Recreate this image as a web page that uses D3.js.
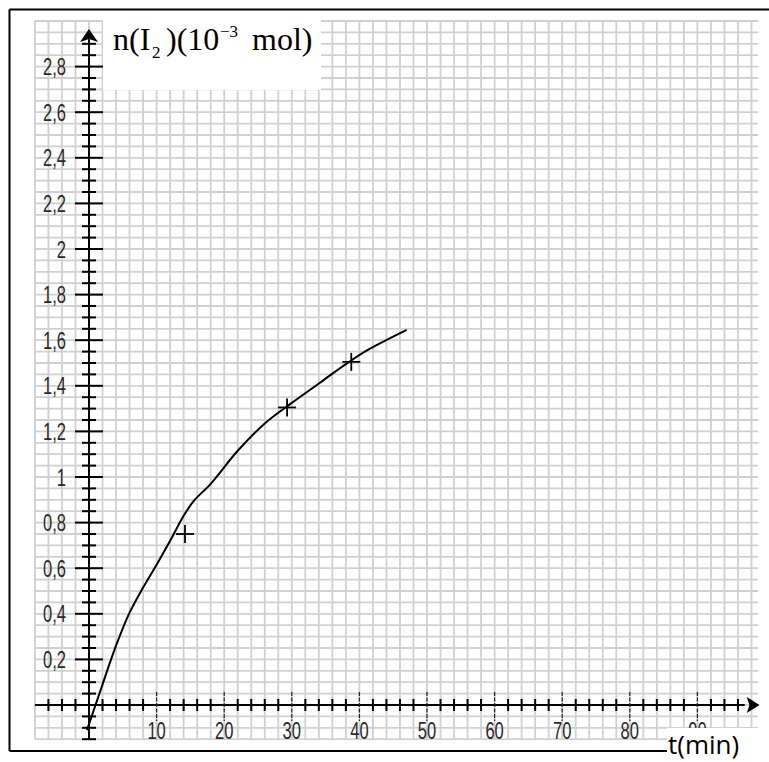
<!DOCTYPE html>
<html>
<head>
<meta charset="utf-8">
<script src="https://cdn.jsdelivr.net/npm/d3@7"></script>
<style>
  html, body { margin: 0; padding: 0; background: #fff; }
  svg { display: block; }
</style>
</head>
<body>
<script>
// ---- data ----
const curveT = [-0.3, 2, 4, 6, 8, 10, 12, 14, 15.5, 18, 22, 26, 30, 34, 38, 41, 47];
const curveN = [-0.11, 0.09, 0.26, 0.405, 0.515, 0.615, 0.72, 0.83, 0.895, 0.97, 1.115, 1.235, 1.325, 1.41, 1.495, 1.553, 1.645];
const pointT = [14.2, 29.3, 38.8];
const pointN = [0.75, 1.305, 1.505];
const xTickValues = [10, 20, 30, 40, 50, 60, 70, 80, 90];
const xTickLabels = ["10", "20", "30", "40", "50", "60", "70", "80", "90"];
const yTickValues = [0.2, 0.4, 0.6, 0.8, 1, 1.2, 1.4, 1.6, 1.8, 2, 2.2, 2.4, 2.6, 2.8];
const yTickLabels = ["0,2", "0,4", "0,6", "0,8", "1", "1,2", "1,4", "1,6", "1,8", "2", "2,2", "2,4", "2,6", "2,8"];
const yTitleParts = ["n(I", "2", ")(10", "\u22123", "mol)"];
const xTitle = "t(min)";

const W = 769, H = 762;
const svg = d3.select("body").append("svg").attr("width", W).attr("height", H);

const x = d3.scaleLinear().domain([0, 10]).range([89, 156.6]);
const y = d3.scaleLinear().domain([0, 1]).range([705, 477]);

// ---- grid ----
const grid = svg.append("g").attr("stroke", "#d0d0d0").attr("stroke-width", 1.8);
const gx = d3.range(-8, 98.1, 2);
const gy = d3.range(-3, 60.1, 1).map(d => d * 0.05);
grid.selectAll("line.v").data(gx).join("line")
  .attr("x1", d => x(d)).attr("x2", d => x(d))
  .attr("y1", y(3.0)).attr("y2", y(-0.15));
grid.selectAll("line.h").data(gy).join("line")
  .attr("x1", x(-8)).attr("x2", x(99))
  .attr("y1", d => y(d)).attr("y2", d => y(d));

// white box behind the y title
svg.append("rect").attr("x", 103).attr("y", 18).attr("width", 218).attr("height", 72).attr("fill", "#fff");

// ---- axes ----
const ax = svg.append("g").attr("stroke", "#000");
ax.append("line").attr("x1", x(-8)).attr("x2", x(97)).attr("y1", y(0)).attr("y2", y(0)).attr("stroke-width", 2);
ax.append("line").attr("x1", x(0)).attr("x2", x(0)).attr("y1", y(-0.15)).attr("y2", y(2.92)).attr("stroke-width", 2);

const xMinor = d3.range(-6, 97, 2).filter(d => d !== 0 && d % 10 !== 0);
ax.selectAll("line.xm").data(xMinor).join("line")
  .attr("x1", d => x(d)).attr("x2", d => x(d))
  .attr("y1", y(0) - 6).attr("y2", y(0) + 6).attr("stroke-width", 2);
ax.selectAll("line.xM").data(xTickValues).join("line")
  .attr("x1", d => x(d)).attr("x2", d => x(d))
  .attr("y1", y(0) - 13).attr("y2", y(0) + 16)
  .attr("stroke-width", 1.2).attr("stroke", "#222").attr("stroke-dasharray", "4,1.5");

const yMinor = d3.range(-3, 59, 1).map(d => d * 0.05).filter(d => Math.abs(d) > 1e-9 && Math.abs(Math.round(d / 0.2) * 0.2 - d) > 1e-6);
ax.selectAll("line.ym").data(yMinor).join("line")
  .attr("x1", x(0) - 7).attr("x2", x(0) + 7)
  .attr("y1", d => y(d)).attr("y2", d => y(d)).attr("stroke-width", 2);
ax.selectAll("line.yM").data(yTickValues).join("line")
  .attr("x1", x(0) - 14).attr("x2", x(0) + 14)
  .attr("y1", d => y(d)).attr("y2", d => y(d)).attr("stroke-width", 2);

// arrows
svg.append("path")
  .attr("d", `M${x(0)},${y(0) - 676} L${x(0) - 9},${y(0) - 663} L${x(0)},${y(0) - 666} L${x(0) + 9},${y(0) - 663} Z`)
  .attr("fill", "#000");
svg.append("path")
  .attr("d", `M${x(99.2)},${y(0)} L${x(97.3)},${y(0) - 8} L${x(97.7)},${y(0)} L${x(97.3)},${y(0) + 8} Z`)
  .attr("fill", "#000");

// tick labels
const lab = svg.append("g").attr("font-family", "'Liberation Sans', Arial, sans-serif").attr("font-size", 23).attr("fill", "#2a2a2a");
lab.selectAll("text.y").data(yTickValues).join("text")
  .attr("transform", d => `translate(66,${y(d) + 8.5}) scale(0.72,1)`)
  .attr("text-anchor", "end")
  .text((d, i) => yTickLabels[i]);
lab.selectAll("text.x").data(xTickValues).join("text")
  .attr("transform", d => `translate(${x(d)},739) scale(0.72,1)`)
  .attr("text-anchor", "middle")
  .text((d, i) => xTickLabels[i]);

// ---- curve ----
const line = d3.line().x(d => x(d[0])).y(d => y(d[1])).curve(d3.curveCatmullRom.alpha(0.5));
svg.append("path")
  .datum(curveT.map((t, i) => [t, curveN[i]]))
  .attr("d", line)
  .attr("fill", "none").attr("stroke", "#000").attr("stroke-width", 2);

// ---- crosses ----
const cg = svg.append("g").attr("stroke", "#000").attr("stroke-width", 1.8);
pointT.forEach((t, i) => {
  const px = x(t), py = y(pointN[i]);
  cg.append("line").attr("x1", px - 9).attr("x2", px + 9).attr("y1", py).attr("y2", py);
  cg.append("line").attr("x1", px).attr("x2", px).attr("y1", py - 9).attr("y2", py + 9);
});

// ---- y title ----
const tt = svg.append("g").attr("font-family", "'Liberation Serif', 'Times New Roman', serif").attr("fill", "#000");
tt.append("text").attr("x", 113).attr("y", 50).attr("font-size", 32).text(yTitleParts[0]);
tt.append("text").attr("x", 152).attr("y", 58).attr("font-size", 17).text(yTitleParts[1]);
tt.append("text").attr("x", 166).attr("y", 50).attr("font-size", 32).text(yTitleParts[2]);
tt.append("text").attr("x", 220).attr("y", 37).attr("font-size", 17).text(yTitleParts[3]);
tt.append("text").attr("x", 252).attr("y", 50).attr("font-size", 32).text(yTitleParts[4]);

// ---- frame ----
const fr = svg.append("g").attr("stroke", "#000").attr("stroke-width", 2).attr("fill", "none");
fr.append("line").attr("x1", 9.5).attr("x2", W).attr("y1", 9.5).attr("y2", 9.5);
fr.append("line").attr("x1", 9.5).attr("x2", 9.5).attr("y1", 9.5).attr("y2", 751);
fr.append("line").attr("x1", 9.5).attr("x2", 667).attr("y1", 751).attr("y2", 751);

// x title box
svg.append("rect").attr("x", 667).attr("y", 728).attr("width", 102).attr("height", 34).attr("fill", "#fff");
svg.append("text").attr("x", 668).attr("y", 754)
  .attr("font-family", "'Open Sans', sans-serif").attr("font-size", 26).attr("fill", "#000")
  .text(xTitle);
</script>
</body>
</html>
